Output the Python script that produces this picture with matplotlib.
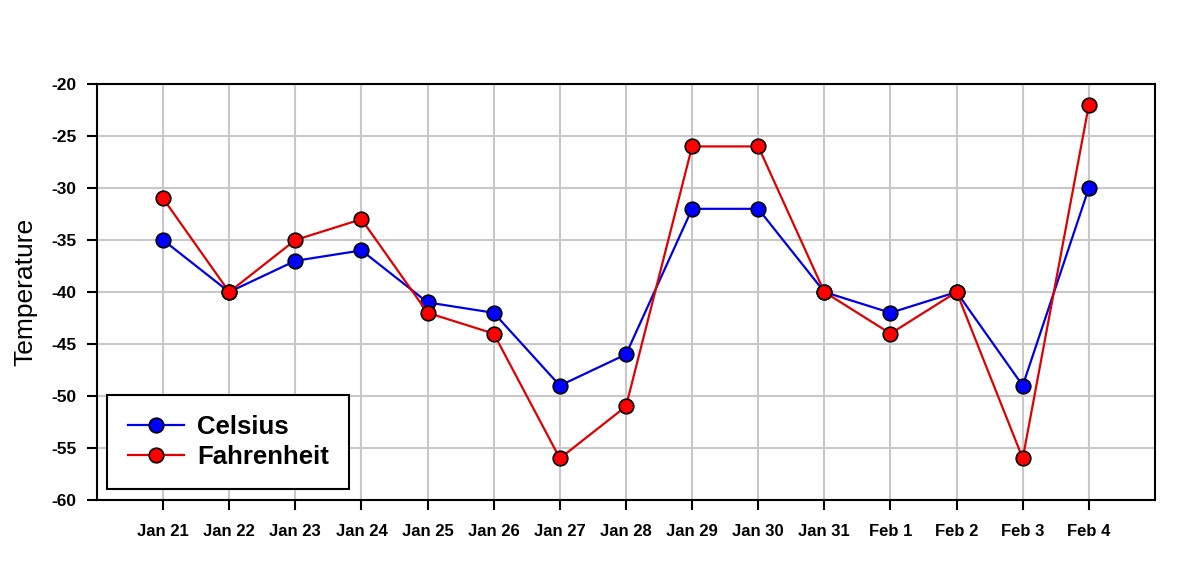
import matplotlib
matplotlib.use("Agg")
import matplotlib.pyplot as plt

plt.rcParams['font.family'] = ['Liberation Sans', 'DejaVu Sans']

dates = ['Jan 21', 'Jan 22', 'Jan 23', 'Jan 24', 'Jan 25', 'Jan 26', 'Jan 27', 'Jan 28',
         'Jan 29', 'Jan 30', 'Jan 31', 'Feb 1', 'Feb 2', 'Feb 3', 'Feb 4']
celsius = [-35, -40, -37, -36, -41, -42, -49, -46, -32, -32, -40, -42, -40, -49, -30]
fahrenheit = [-31, -40, -35, -33, -42, -44, -56, -51, -26, -26, -40, -44, -40, -56, -22]

fig = plt.figure(figsize=(12, 5.64), dpi=100)
ax = fig.add_axes([0.0808, 0.1135, 0.8817, 0.7375])

xs = list(range(len(dates)))
ax.plot(xs, celsius, color='#0000e6', linewidth=1.6, marker='o', markersize=10.5,
        markerfacecolor='#0000ff', markeredgecolor='black', markeredgewidth=1.2,
        label='Celsius', zorder=3)
ax.plot(xs, fahrenheit, color='#e00000', linewidth=1.6, marker='o', markersize=10.5,
        markerfacecolor='#ff0000', markeredgecolor='black', markeredgewidth=1.2,
        label='Fahrenheit', zorder=4)

ax.set_xlim(-1, len(dates))
ax.set_ylim(-60, -20)
ax.set_xticks(xs)
ax.set_xticklabels(dates, fontweight='bold', fontsize=12)
ax.set_yticks(range(-60, -19, 5))
ax.set_yticklabels([str(v) for v in range(-60, -19, 5)], fontweight='bold', fontsize=12.5)
ax.tick_params(axis='both', direction='out', length=7, width=1.5, pad=8)
ax.tick_params(axis='x', pad=10)
ax.grid(True, color='#c8c8c8', linewidth=1.5)
ax.set_axisbelow(True)
for s in ax.spines.values():
    s.set_linewidth(1.5)

ax.set_ylabel('Temperature', fontsize=19, labelpad=10)

leg = ax.legend(loc='lower left', bbox_to_anchor=(0.0095, 0.026), prop={'weight': 'bold', 'size': 18.5},
                frameon=True, fancybox=False, edgecolor='black', framealpha=1,
                handlelength=2.2, borderpad=0.8, labelspacing=0.2, handletextpad=0.5,
                borderaxespad=0)
leg.get_frame().set_linewidth(1.5)

plt.savefig('out.png', dpi=100)
